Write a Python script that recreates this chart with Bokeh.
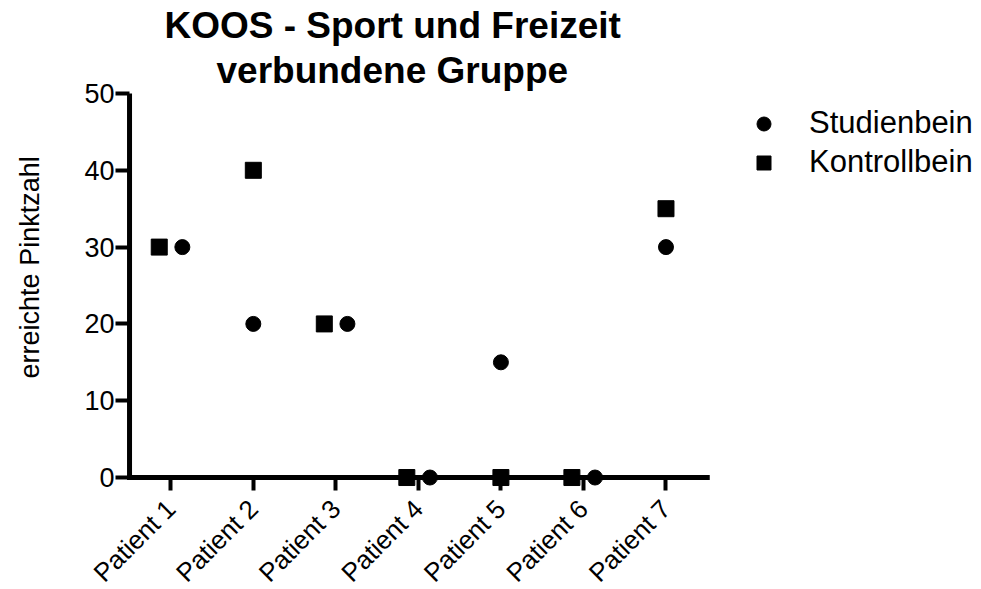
import math
from bokeh.plotting import figure
from bokeh.layouts import row
from bokeh.models import Range1d, FixedTicker, Legend, LegendItem, Title, Label
from bokeh.embed import file_html
from bokeh.resources import INLINE

# ---- data -------------------------------------------------------------
patients = ["Patient 1", "Patient 2", "Patient 3", "Patient 4",
            "Patient 5", "Patient 6", "Patient 7"]
studienbein = [30, 20, 20, 0, 15, 0, 30]
kontrollbein = [30, 40, 20, 0, 0, 0, 35]
y_ticks = [0, 10, 20, 30, 40, 50]
title_line1 = "KOOS - Sport und Freizeit"
title_line2 = "verbundene Gruppe"
y_label = "erreichte Pinktzahl"
series_names = ["Studienbein", "Kontrollbein"]

FONT = "Liberation Sans"
H = 589
LABEL_W = 50

# category positions, with side-by-side dodge when both values coincide
pos = list(range(len(patients)))
dodge = 0.14
xs_s = [i + dodge if s == k else i for i, s, k in zip(pos, studienbein, kontrollbein)]
xs_k = [i - dodge if s == k else i for i, s, k in zip(pos, studienbein, kontrollbein)]

# ---- narrow strip holding the y-axis title ------------------------------
lab = figure(width=LABEL_W, height=H, min_border=0,
             x_range=Range1d(0, LABEL_W), y_range=Range1d(0, H),
             x_axis_type=None, y_axis_type=None,
             output_backend="svg", toolbar_location=None)
lab.outline_line_color = None
lab.xgrid.visible = False
lab.ygrid.visible = False
lab.add_layout(Label(x=29, y=H - 266, text=y_label, angle=math.pi / 2,
                     text_align="center", text_baseline="middle",
                     text_font=FONT, text_font_size="27px",
                     text_color="black"))

# ---- main chart ---------------------------------------------------------
p = figure(
    frame_width=600, frame_height=397,
    min_border_left=115 - LABEL_W, min_border_right=266,
    min_border_top=93, min_border_bottom=99,
    x_range=Range1d(-0.67, 6.6), y_range=Range1d(-1.69, y_ticks[-1]),
    output_backend="svg", toolbar_location=None,
)
p.outline_line_color = None
p.xgrid.visible = False
p.ygrid.visible = False
p.background_fill_color = "white"
p.border_fill_color = "white"

# axis lines drawn in data space so that markers at 0 sit on the line
x_lo = -0.5
x_hi = len(patients) - 0.5
p.segment(x0=[x_lo, x_lo], y0=[y_ticks[0], y_ticks[0]],
          x1=[x_hi, x_lo], y1=[y_ticks[0], y_ticks[-1]],
          line_width=5, line_color="black", line_cap="square")

r_s = p.scatter(xs_s, studienbein, marker="circle", size=15,
                fill_color="black", line_color="black")
r_k = p.scatter(xs_k, kontrollbein, marker="square", size=16,
                fill_color="black", line_color="black")

# x axis
xa = p.xaxis[0]
xa.ticker = FixedTicker(ticks=pos)
xa.major_label_overrides = {i: name for i, name in zip(pos, patients)}
xa.major_label_orientation = math.pi / 4
xa.axis_line_color = None
xa.major_tick_in = 13
xa.major_tick_out = 0
xa.major_tick_line_width = 4
xa.major_tick_line_color = "black"
xa.minor_tick_line_color = None
xa.major_label_text_font = FONT
xa.major_label_text_font_size = "26px"
xa.major_label_text_color = "black"
xa.major_label_standoff = 14

# y axis
ya = p.yaxis[0]
ya.ticker = FixedTicker(ticks=y_ticks)
ya.axis_line_color = None
ya.major_tick_in = 14
ya.major_tick_out = 0
ya.major_tick_line_width = 4
ya.major_tick_line_color = "black"
ya.minor_tick_line_color = None
ya.major_label_text_font = FONT
ya.major_label_text_font_size = "27px"
ya.major_label_text_color = "black"
ya.major_label_standoff = 1

# two-line title
t2 = Title(text=title_line2, align="left", offset=101, standoff=5,
           text_font=FONT, text_font_size="37px", text_font_style="bold",
           text_color="black")
t1 = Title(text=title_line1, align="left", offset=49, standoff=0,
           text_font=FONT, text_font_size="37px", text_font_style="bold",
           text_color="black")
p.add_layout(t2, "above")
p.add_layout(t1, "above")

legend = Legend(
    items=[LegendItem(label=series_names[0], renderers=[r_s]),
           LegendItem(label=series_names[1], renderers=[r_k])],
    location=(31, 310), glyph_width=35, glyph_height=35,
    label_standoff=28, spacing=3, margin=0, padding=0,
    border_line_color=None, background_fill_alpha=0,
    label_text_font=FONT, label_text_font_size="31px",
    label_text_color="black", label_text_baseline="middle",
)
p.add_layout(legend, "right")

layout = row(lab, p, spacing=0)
open("out.html", "w").write(file_html(layout, INLINE))
